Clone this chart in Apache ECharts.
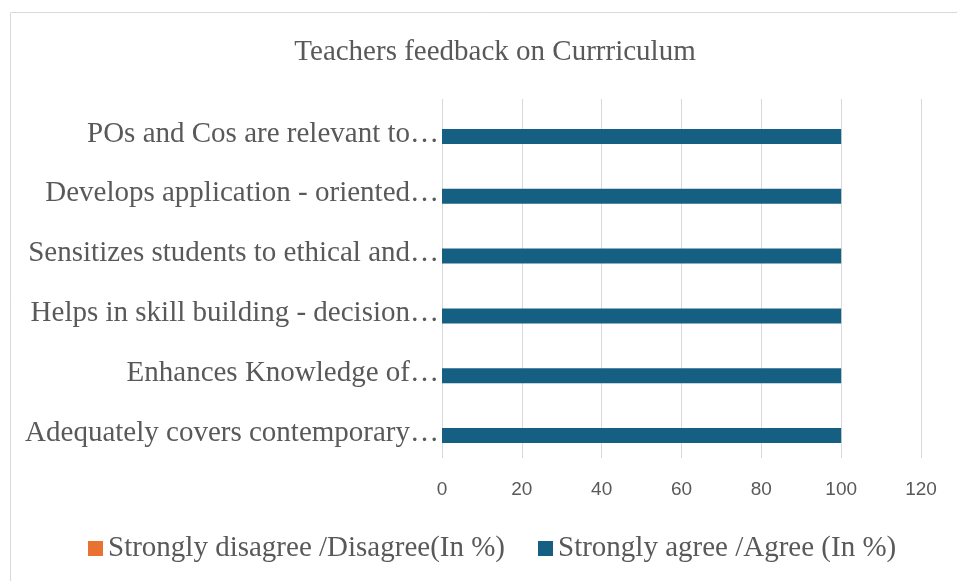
<!DOCTYPE html>
<html>
<head>
<meta charset="utf-8">
<script src="https://cdn.jsdelivr.net/npm/echarts@6/dist/echarts.min.js"></script>
<style>
  html, body { margin: 0; padding: 0; background: #fff; overflow: hidden; }
  #chart { width: 957px; height: 581px; }
</style>
</head>
<body>
<div id="chart"></div>
<script>
const categories = [
  'Adequately covers contemporary…',
  'Enhances Knowledge of…',
  'Helps in skill building - decision…',
  'Sensitizes students to ethical and…',
  'Develops application - oriented…',
  'POs and Cos are relevant to…'
];
const disagreeValues = [0, 0, 0, 0, 0, 0];
const agreeValues = [100, 100, 100, 100, 100, 100];
const seriesNames = ['Strongly disagree /Disagree(In %)', 'Strongly agree /Agree (In %)'];

const textColor = '#595959';
const serif = '"Liberation Serif", "DejaVu Serif", serif';

const chart = echarts.init(document.getElementById('chart'));

chart.setOption({
  animation: false,
  color: ['#E97132', '#156082'],
  title: {
    text: 'Teachers feedback on Currriculum',
    left: 490,
    top: 33,
    textAlign: 'center',
    textStyle: {
      fontFamily: serif,
      fontSize: 29,
      fontWeight: 'normal',
      color: textColor
    }
  },
  graphic: [{
    type: 'rect',
    shape: { x: 10.5, y: 12.5, width: 1000, height: 1000 },
    style: { fill: 'none', stroke: '#d9d9d9', lineWidth: 1 },
    silent: true
  }],
  legend: {
    left: 83,
    top: 529,
    itemWidth: 15,
    itemHeight: 15,
    itemGap: 33,
    icon: 'rect',
    textStyle: {
      fontFamily: serif,
      fontSize: 29,
      color: textColor
    },
    data: seriesNames
  },
  grid: {
    left: 442,
    right: 36,
    top: 99,
    bottom: 123,
    containLabel: false
  },
  xAxis: {
    type: 'value',
    min: 0,
    max: 120,
    interval: 20,
    axisLine: { show: false },
    axisTick: { show: false },
    axisLabel: {
      margin: 22,
      fontFamily: '"Liberation Sans", Arial, sans-serif',
      fontSize: 19,
      color: textColor
    },
    splitLine: {
      show: true,
      lineStyle: { color: '#d9d9d9', width: 1 }
    }
  },
  yAxis: {
    type: 'category',
    data: categories,
    axisLine: { show: false },
    axisTick: { show: false },
    axisLabel: {
      margin: 3,
      formatter: (v) => '{c|' + v + '}',
      rich: {
        c: {
          padding: [10, 0, 0, 0],
          fontFamily: serif,
          fontSize: 29,
          color: textColor
        }
      }
    }
  },
  series: [
    {
      name: seriesNames[0],
      type: 'bar',
      barWidth: 15,
      barGap: '0%',
      data: disagreeValues
    },
    {
      name: seriesNames[1],
      type: 'bar',
      barWidth: 15,
      barGap: '0%',
      data: agreeValues
    }
  ]
});
</script>
</body>
</html>
